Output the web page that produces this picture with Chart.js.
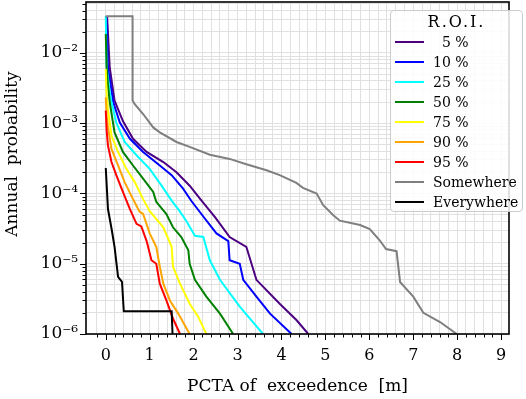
<!DOCTYPE html>
<html>
<head>
<meta charset="utf-8">
<script src="https://cdn.jsdelivr.net/npm/chart.js@4.4.1/dist/chart.umd.min.js"></script>
<style>
  body { margin: 0; background: #fff; }
  #wrap { position: relative; width: 526px; height: 399px; }
  #legend {
    position: absolute; left: 390px; top: 10px; width: 133px; height: 202px;
    border: 1px solid #cccccc; border-radius: 4px; background: rgba(255,255,255,0.85);
    font-family: "DejaVu Serif", serif; box-sizing: border-box;
  }
  #legend .title { height: 21px; line-height: 21px; text-align: center; font-size: 16px; letter-spacing: 2px; }
  #legend .row { height: 20px; display: flex; align-items: center; }
  #legend .swatch { margin-left: 4px; width: 29px; height: 2px; }
  #legend .lab { margin-left: 9px; font-size: 14px; white-space: pre; }
</style>
</head>
<body>
<div id="wrap">
  <canvas id="chart" width="526" height="399"></canvas>
  <div id="legend"></div>
</div>
<script>
// Valores (x en metros, y probabilidad anual)
const labels = ['\u20075 %', '10 %', '25 %', '50 %', '75 %', '90 %', '95 %', 'Somewhere', 'Everywhere'];
const colors = ['#4b0082', '#0000ff', '#00ffff', '#008000', '#ffff00', '#ffa500', '#ff0000', '#7f7f7f', '#000000'];

const p5x  = [0.03, 0.09, 0.2, 0.39, 0.62, 0.93, 1.31, 1.61, 1.91, 2.18, 2.5, 2.82, 3.2, 3.43, 3.96, 4.34, 4.61];
const p5y  = [3.33e-2, 6.2e-3, 2.1e-3, 1.07e-3, 6.0e-4, 3.9e-4, 2.8e-4, 2.0e-4, 1.29e-4, 7.9e-5, 4.5e-5, 2.4e-5, 1.74e-5, 5.9e-6, 2.7e-6, 1.58e-6, 1e-6];

const p10x = [0.01, 0.05, 0.17, 0.32, 0.55, 0.85, 1.23, 1.5, 1.76, 1.95, 2.22, 2.52, 2.79, 2.82, 3.05, 3.13, 3.43, 3.74, 4.23];
const p10y = [3.33e-2, 6.2e-3, 2.0e-3, 1.02e-3, 6.0e-4, 3.9e-4, 2.5e-4, 1.82e-4, 1.17e-4, 7.8e-5, 4.7e-5, 2.7e-5, 2.1e-5, 1.12e-5, 1.0e-5, 5.9e-6, 3.4e-6, 1.95e-6, 1e-6];

const p25x = [0, 0.02, 0.09, 0.13, 0.24, 0.43, 0.7, 1.0, 1.27, 1.5, 1.69, 1.84, 2.03, 2.22, 2.37, 2.6, 3.05, 3.58];
const p25y = [3.33e-2, 6.3e-3, 2.8e-3, 2.0e-3, 1.02e-3, 5.4e-4, 3.5e-4, 2.24e-4, 1.29e-4, 7.9e-5, 5.5e-5, 4.0e-5, 2.5e-5, 2.4e-5, 1.12e-5, 5.9e-6, 2.45e-6, 1e-6];

const p50x = [0, 0.02, 0.05, 0.09, 0.2, 0.39, 0.62, 0.85, 1.08, 1.15, 1.38, 1.53, 1.72, 1.88, 1.91, 2.03, 2.29, 2.6, 2.9];
const p50y = [1.86e-2, 6.3e-3, 3.5e-3, 2.0e-3, 7.4e-4, 3.9e-4, 2.5e-4, 1.62e-4, 1.05e-4, 7.6e-5, 5.1e-5, 3.3e-5, 2.4e-5, 1.55e-5, 1.0e-5, 5.9e-6, 3.4e-6, 1.95e-6, 1e-6];

const p75x = [0, 0.02, 0.05, 0.13, 0.28, 0.47, 0.66, 0.85, 1.0, 1.31, 1.5, 1.53, 1.69, 1.91, 2.1, 2.29];
const p75y = [5.9e-3, 2.5e-3, 1.58e-3, 6.6e-4, 3.9e-4, 2.24e-4, 1.45e-4, 8.3e-5, 5.6e-5, 3.3e-5, 1.74e-5, 9.1e-6, 5.2e-6, 2.7e-6, 1.78e-6, 1e-6];

const p90x = [0, 0.02, 0.05, 0.13, 0.28, 0.43, 0.58, 0.77, 0.85, 1.0, 1.15, 1.23, 1.31, 1.46, 1.65, 1.91];
const p90y = [2.34e-3, 1.26e-3, 8.7e-4, 4.3e-4, 2.5e-4, 1.45e-4, 9.3e-5, 5.5e-5, 5.1e-5, 2.7e-5, 1.74e-5, 9.1e-6, 5.2e-6, 3.0e-6, 1.95e-6, 1e-6];

const p95x = [0, 0.02, 0.05, 0.13, 0.24, 0.39, 0.55, 0.7, 0.81, 0.93, 1.04, 1.15, 1.23, 1.38, 1.53, 1.69];
const p95y = [1.51e-3, 7.9e-4, 4.8e-4, 2.8e-4, 1.82e-4, 1.05e-4, 6.0e-5, 3.7e-5, 3.4e-5, 2.1e-5, 1.12e-5, 1.0e-5, 5.2e-6, 3.0e-6, 1.66e-6, 1e-6];

const somex = [0, 0.61, 0.61, 0.66, 0.85, 1.08, 1.23, 1.61, 1.91, 2.37, 2.82, 3.2, 3.66, 3.96, 4.34, 4.49, 4.8, 4.95, 5.18, 5.33, 5.79, 6.01, 6.24, 6.38, 6.62, 6.7, 7.0, 7.23, 7.61, 7.99];
const somey = [3.33e-2, 3.33e-2, 2.1e-3, 1.86e-3, 1.35e-3, 8.7e-4, 7.4e-4, 5.4e-4, 4.6e-4, 3.55e-4, 3.1e-4, 2.6e-4, 2.14e-4, 1.82e-4, 1.41e-4, 1.2e-4, 1.0e-4, 6.8e-5, 4.9e-5, 4.1e-5, 3.55e-5, 3.1e-5, 2.14e-5, 1.62e-5, 1.51e-5, 5.5e-6, 3.4e-6, 2.0e-6, 1.48e-6, 1e-6];

const everyx = [0, 0.05, 0.13, 0.2, 0.28, 0.37, 0.41, 1.5, 1.52];
const everyy = [2.3e-4, 6.0e-5, 3.2e-5, 1.74e-5, 6.5e-6, 5.5e-6, 2.1e-6, 2.1e-6, 1e-6];

const seriesX = [p5x, p10x, p25x, p50x, p75x, p90x, p95x, somex, everyx];
const seriesY = [p5y, p10y, p25y, p50y, p75y, p90y, p95y, somey, everyy];

const xMin = -0.45, xMax = 9.18;
const yMin = 1e-6, yMax = 5.3e-2;
const yTitle = 'Annual  probability';

// superíndices para las etiquetas 10^n
const sup = {'-': '\u207b', '0': '\u2070', '1': '\u00b9', '2': '\u00b2', '3': '\u00b3', '4': '\u2074', '5': '\u2075', '6': '\u2076', '7': '\u2077', '8': '\u2078', '9': '\u2079'};
function powLabel(e) {
    return '10' + String(e).split('').map(c => sup[c]).join('');
}
function isDecade(v) {
    const l = Math.log10(v);
    return Math.abs(l - Math.round(l)) < 1e-9;
}

const datasets = seriesX.map((xs, i) => ({
    label: labels[i],
    data: xs.map((x, j) => ({ x: x, y: seriesY[i][j] })),
    borderColor: colors[i],
    backgroundColor: colors[i],
    borderWidth: 2,
    pointRadius: 0,
    showLine: true,
    tension: 0,
    order: seriesX.length - i
}));

// Marco negro, marcas de los ejes (mayores y menores) y título del eje y
const framePlugin = {
    id: 'frame',
    afterDraw(chart) {
        const ctx = chart.ctx;
        const a = chart.chartArea;
        const xs = chart.scales.x, ys = chart.scales.y;
        ctx.save();
        ctx.strokeStyle = '#000';
        ctx.lineWidth = 1;
        xs.ticks.forEach(t => {
            const px = Math.round(xs.getPixelForValue(t.value)) + 0.5;
            const major = Math.abs(t.value - Math.round(t.value)) < 1e-6;
            ctx.beginPath();
            ctx.moveTo(px, a.bottom);
            ctx.lineTo(px, a.bottom + (major ? 6 : 3.5));
            ctx.stroke();
        });
        ys.ticks.forEach(t => {
            const py = Math.round(ys.getPixelForValue(t.value)) + 0.5;
            ctx.beginPath();
            ctx.moveTo(a.left, py);
            ctx.lineTo(a.left - (isDecade(t.value) ? 6 : 3.5), py);
            ctx.stroke();
        });
        ctx.lineWidth = 1.6;
        ctx.strokeRect(a.left, a.top, a.right - a.left, a.bottom - a.top);

        ctx.translate(13, 154);
        ctx.rotate(-Math.PI / 2);
        ctx.fillStyle = '#000';
        ctx.font = '17px "DejaVu Serif"';
        ctx.textAlign = 'center';
        ctx.textBaseline = 'middle';
        ctx.fillText(yTitle, 0, 0);
        ctx.restore();
    }
};

const chart = new Chart(document.getElementById('chart'), {
    type: 'scatter',
    data: { datasets: datasets },
    options: {
        responsive: false,
        animation: false,
        layout: { padding: { top: 2, right: 17, left: 0, bottom: 0 } },
        plugins: { legend: { display: false }, tooltip: { enabled: false } },
        scales: {
            x: {
                type: 'linear',
                min: xMin,
                max: xMax,
                afterFit(s) {
                    s.height = 65;
                    s.paddingLeft = 0;
                    s.paddingRight = 0;
                },
                afterBuildTicks(s) {
                    const t = [];
                    for (let k = -1; k <= 45; k++) t.push({ value: Math.round(k * 0.2 * 10) / 10 });
                    s.ticks = t;
                },
                border: { display: false },
                grid: { color: '#e0e0e0', lineWidth: 1, drawTicks: false },
                ticks: {
                    autoSkip: false,
                    maxRotation: 0,
                    padding: 12,
                    color: '#000',
                    font: { family: 'DejaVu Serif', size: 16 },
                    callback: v => Math.abs(v - Math.round(v)) < 1e-6 ? String(Math.round(v)) : ''
                },
                title: {
                    display: true,
                    text: 'PCTA of  exceedence  [m]',
                    color: '#000',
                    font: { family: 'DejaVu Serif', size: 17 },
                    padding: { top: 0, bottom: 2 }
                }
            },
            y: {
                type: 'logarithmic',
                min: yMin,
                max: yMax,
                afterFit(s) {
                    s.width = 86;
                    s.paddingTop = 0;
                    s.paddingBottom = 0;
                },
                afterBuildTicks(s) {
                    const t = [];
                    for (let e = -6; e <= -2; e++) {
                        for (let m = 1; m <= 9; m++) {
                            const v = m * Math.pow(10, e);
                            if (v <= yMax) t.push({ value: v });
                        }
                    }
                    s.ticks = t;
                },
                border: { display: false },
                grid: { color: '#e0e0e0', lineWidth: 1, drawTicks: false },
                ticks: {
                    autoSkip: false,
                    padding: 8,
                    color: '#000',
                    font: { family: 'DejaVu Serif', size: 17 },
                    callback: v => isDecade(v) ? powLabel(Math.round(Math.log10(v))) : ''
                },
                title: { display: false }
            }
        }
    },
    plugins: [framePlugin]
});

// Leyenda HTML superpuesta en la esquina superior derecha
const legend = document.getElementById('legend');
const title = document.createElement('div');
title.className = 'title';
title.textContent = 'R.O.I.';
legend.appendChild(title);
labels.forEach((lab, i) => {
    const row = document.createElement('div');
    row.className = 'row';
    const sw = document.createElement('div');
    sw.className = 'swatch';
    sw.style.background = colors[i];
    const tx = document.createElement('span');
    tx.className = 'lab';
    tx.textContent = lab;
    row.appendChild(sw);
    row.appendChild(tx);
    legend.appendChild(row);
});
</script>
</body>
</html>
